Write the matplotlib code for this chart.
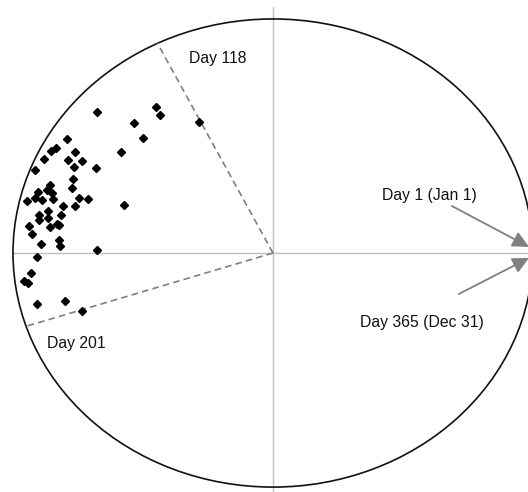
import matplotlib
matplotlib.use("Agg")
import matplotlib.pyplot as plt
import numpy as np
from matplotlib.patches import Ellipse

plt.rcParams['font.family'] = ['Liberation Sans', 'DejaVu Sans']

# points inside the unit circle (x = cos, y = sin of the day angle, scaled by radius)
pts_x = [-0.678, -0.451, -0.435, -0.533, -0.285, -0.499, -0.792, -0.585, -0.835, -0.854,
         -0.760, -0.882, -0.790, -0.733, -0.765, -0.681, -0.915, -0.768, -0.857, -0.774,
         -0.905, -0.870, -0.851, -0.947, -0.915, -0.890, -0.847, -0.747, -0.710, -0.807,
         -0.763, -0.574, -0.864, -0.899, -0.815, -0.899, -0.867, -0.937, -0.858, -0.832,
         -0.823, -0.927, -0.891, -0.823, -0.818, -0.678, -0.907, -0.932, -0.957, -0.943,
         -0.909, -0.799, -0.735]
pts_y = [0.604, 0.623, 0.590, 0.557, 0.560, 0.491, 0.487, 0.430, 0.447, 0.436,
         0.433, 0.402, 0.397, 0.392, 0.369, 0.363, 0.355, 0.316, 0.291, 0.279,
         0.259, 0.268, 0.255, 0.224, 0.234, 0.226, 0.229, 0.236, 0.229, 0.201,
         0.201, 0.204, 0.181, 0.164, 0.164, 0.141, 0.148, 0.117, 0.112, 0.123,
         0.120, 0.082, 0.038, 0.056, 0.030, 0.012, -0.016, -0.084, -0.118, -0.129,
         -0.218, -0.204, -0.249]

# sector boundaries (day of year)
bound_days = [118, 201]
bound_labels = ["Day 118", "Day 201"]
bound_label_xy = [(-0.212, 0.833), (-0.758, -0.385)]

# start / end of year annotations
year_labels = ["Day 1 (Jan 1)", "Day 365 (Dec 31)"]
year_label_xy = [(0.600, 0.244), (0.573, -0.295)]
year_tail_xy = [(0.688, 0.201), (0.715, -0.175)]
year_tip_xy = [(0.985, 0.026), (0.985, -0.021)]

fig = plt.figure(figsize=(5.28, 4.92), dpi=100)
ax = fig.add_axes([0, 0, 1, 1])
ax.set_xlim(-1.05, 0.981)
ax.set_ylim(-1.021, 1.081)
ax.axis('off')

# axes cross
ax.plot([-1.0, 1.05], [0, 0], color='#c0c0c0', lw=1, zorder=1)
ax.plot([0, 0], [-1.05, 1.051], color='#c0c0c0', lw=1, zorder=1)

ax.add_patch(Ellipse((0, 0), 2, 2, fill=False, ec='#111111', lw=1.2, zorder=2))

for d, lab, (tx, ty) in zip(bound_days, bound_labels, bound_label_xy):
    a = 2 * np.pi * d / 365
    ax.plot([0, np.cos(a)], [0, np.sin(a)], color='#808080', lw=1.2,
            dashes=(4, 2.5), zorder=2)
    ax.text(tx, ty, lab, fontsize=11.3, ha='center', va='center', color='#111111')

ax.plot(pts_x, pts_y, 'D', color='black', ms=4.5, zorder=3)

arrow = dict(arrowstyle='-|>,head_length=0.45,head_width=0.22', color='#808080',
             lw=1.3, mutation_scale=22, shrinkA=0, shrinkB=0)
for lab, lxy, txy, hxy in zip(year_labels, year_label_xy, year_tail_xy, year_tip_xy):
    ax.annotate("", xy=hxy, xytext=txy, arrowprops=arrow, annotation_clip=False)
    ax.text(lxy[0], lxy[1], lab, fontsize=11.3, ha='center', va='center', color='#111111')

fig.savefig("out.png", dpi=100)
